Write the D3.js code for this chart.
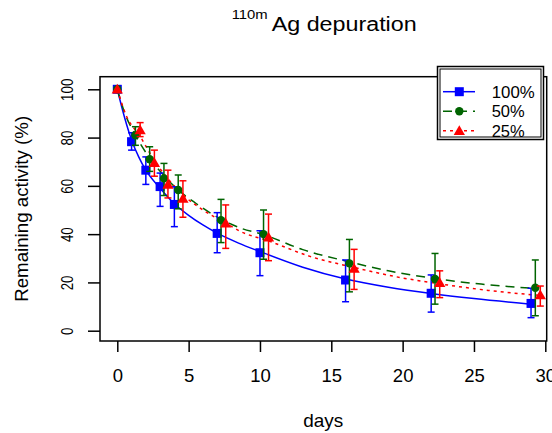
<!DOCTYPE html>
<html>
<head>
<meta charset="utf-8">
<script src="https://cdn.jsdelivr.net/npm/d3@7"></script>
<style>
  body { margin: 0; background: #fff; }
  text { font-family: "Liberation Sans", Arial, sans-serif; fill: #000; }
</style>
</head>
<body>
<svg id="chart" width="552" height="433"></svg>
<script>
// ---------------- data ----------------
const seriesNames = ["100%", "50%", "25%"];
const xTicks = [0, 5, 10, 15, 20, 25, 30];
const yTicks = [0, 20, 40, 60, 80, 100];

const days100 = [0, 1, 2, 3, 4, 7, 10, 16, 22, 29];
const mean100 = [100, 78.3, 66.5, 59.7, 52.3, 40.3, 32.3, 21.0, 15.5, 11.3];
const low100  = [100, 74.8, 60.6, 51.5, 43.1, 32.3, 22.8, 12.0, 7.7, 5.4];
const high100 = [100, 82.0, 72.0, 65.3, 59.6, 48.9, 41.4, 29.3, 23.1, 17.6];

const days50 = [0, 1.27, 2.27, 3.27, 4.27, 7.27, 10.25, 16.27, 22.27, 29.3];
const mean50 = [100, 81.0, 71.0, 63.1, 58.3, 45.8, 40.0, 27.9, 21.4, 17.8];
const low50  = [100, 76.8, 66.0, 56.0, 50.5, 36.5, 29.6, 16.1, 11.0, 6.2];
const high50 = [100, 84.5, 76.2, 69.3, 64.5, 54.4, 50.0, 37.8, 32.0, 29.3];

const days25 = [0, 1.6, 2.6, 3.55, 4.6, 7.6, 10.6, 16.6, 22.6, 29.65];
const mean25 = [100, 83.1, 69.6, 60.6, 54.8, 44.5, 38.7, 25.8, 19.9, 14.8];
const low25  = [100, 80.4, 64.0, 55.0, 47.0, 34.1, 29.0, 17.1, 13.7, 10.2];
const high25 = [100, 86.2, 74.8, 66.5, 62.1, 52.1, 48.3, 33.7, 24.8, 18.5];

// fitted curves
const fitT100 = [0, 0.5, 1, 1.5, 2, 3, 4, 5, 6, 7, 8.5, 10, 13, 16, 19, 22, 25, 29];
const fitY100 = [100, 88.5, 79, 72, 66.5, 59, 52.6, 47.8, 43.8, 40.4, 36.3, 32.8, 26.3, 21.4, 18.0, 15.4, 13.3, 11.0];
const fitT50 = [0, 0.5, 1.27, 2.27, 3.27, 4.27, 5.5, 7.27, 8.6, 10.25, 13, 16.27, 19, 22.27, 25.5, 29.3];
const fitY50 = [100, 90.5, 81, 71.5, 64.2, 58.3, 52.8, 46.2, 42.6, 39.8, 33.6, 28.5, 24.8, 21.6, 19.3, 17.5];
const fitT25 = [0, 0.6, 1.6, 2.6, 3.6, 4.6, 6, 7.6, 8.6, 10.6, 13.5, 16.6, 19.5, 22.6, 26, 29.65];
const fitY25 = [100, 89.5, 80.5, 70.5, 62.6, 56.3, 50.0, 44.6, 41.2, 37.2, 30.8, 26.2, 22.4, 19.4, 16.7, 14.6];

// ---------------- layout ----------------
const svg = d3.select("#chart");
const frame = { left: 100, right: 546.7, top: 76.7, bottom: 341 };
const x = d3.scaleLinear().domain([0, 30]).range([117.3, 545.3]);
const y = d3.scaleLinear().domain([0, 100]).range([330.7, 89.3]);

const colors = ["#0000ff", "#006400", "#ff0000"];
const dashes = [null, "9,6", "3,4"];

const series = [
  { days: days100, mean: mean100, low: low100, high: high100, ft: fitT100, fy: fitY100 },
  { days: days50,  mean: mean50,  low: low50,  high: high50,  ft: fitT50,  fy: fitY50 },
  { days: days25,  mean: mean25,  low: low25,  high: high25,  ft: fitT25,  fy: fitY25 }
];

// frame
svg.append("rect")
  .attr("x", frame.left).attr("y", frame.top)
  .attr("width", frame.right - frame.left).attr("height", frame.bottom - frame.top)
  .attr("fill", "none").attr("stroke", "#000").attr("stroke-width", 1.5);

// x axis
const xAxis = d3.axisBottom(x).tickValues(xTicks).tickSize(11).tickPadding(17).tickFormat(d3.format("d"));
const gx = svg.append("g").attr("transform", `translate(0,${frame.bottom})`).call(xAxis);
gx.select(".domain").remove();
gx.selectAll(".tick line").attr("stroke", "#000").attr("stroke-width", 1.5);
gx.selectAll(".tick text").attr("font-size", 18.5).attr("font-family", "Liberation Sans, Arial, sans-serif")
  .attr("fill", "#000").attr("dy", "0.71em");

// y axis
const yAxis = d3.axisLeft(y).tickValues(yTicks).tickSize(12).tickFormat(d3.format("d"));
const gy = svg.append("g").attr("transform", `translate(${frame.left},0)`).call(yAxis);
gy.select(".domain").remove();
gy.selectAll(".tick line").attr("stroke", "#000").attr("stroke-width", 1.5);
gy.selectAll(".tick text").remove();
gy.selectAll(".tick").append("text")
  .attr("transform", "translate(-33,0) rotate(-90)")
  .attr("text-anchor", "middle")
  .attr("dy", "0.36em")
  .attr("font-size", 16.5)
  .attr("textLength", d => String(d).length * 7.4)
  .attr("lengthAdjust", "spacingAndGlyphs")
  .text(d => d);

// fitted curves
const line = d3.line().curve(d3.curveMonotoneX);
series.forEach((s, i) => {
  svg.append("path")
    .attr("d", line(s.ft.map((t, k) => [x(t), y(s.fy[k])])))
    .attr("fill", "none").attr("stroke", colors[i]).attr("stroke-width", 1.5)
    .attr("stroke-dasharray", dashes[i]);
});

// error bars + markers
function drawMarker(g, shape, cx, cy, color) {
  if (shape === 0) {
    g.append("rect").attr("x", cx - 4.5).attr("y", cy - 4.5).attr("width", 9).attr("height", 9).attr("fill", color);
  } else if (shape === 1) {
    g.append("circle").attr("cx", cx).attr("cy", cy).attr("r", 4.2).attr("fill", color);
  } else {
    g.append("path").attr("d", d3.symbol(d3.symbolTriangle, 55)()).attr("transform", `translate(${cx},${cy + 1})`).attr("fill", color);
  }
}

series.forEach((s, i) => {
  const g = svg.append("g");
  s.days.forEach((d, k) => {
    const cx = x(d);
    if (s.high[k] - s.low[k] > 0.5) {
      g.append("line").attr("x1", cx).attr("x2", cx).attr("y1", y(s.low[k])).attr("y2", y(s.high[k]))
        .attr("stroke", colors[i]).attr("stroke-width", 1.5);
      [s.low[k], s.high[k]].forEach(v => {
        g.append("line").attr("x1", cx - 3.5).attr("x2", cx + 3.5).attr("y1", y(v)).attr("y2", y(v))
          .attr("stroke", colors[i]).attr("stroke-width", 1.5);
      });
    }
  });
  s.days.forEach((d, k) => drawMarker(g, i, x(d), y(s.mean[k]), colors[i]));
});

// legend
const lg = svg.append("g");
lg.append("rect").attr("x", 437.5).attr("y", 66.5).attr("width", 106).attr("height", 73)
  .attr("fill", "#fff").attr("stroke", "#000").attr("stroke-width", 1.5);
lg.append("rect").attr("x", 440).attr("y", 69).attr("width", 101).attr("height", 68)
  .attr("fill", "none").attr("stroke", "#000").attr("stroke-width", 1);
const legY = [91.7, 111.2, 130.7];
seriesNames.forEach((name, i) => {
  lg.append("line").attr("x1", 443).attr("x2", 475).attr("y1", legY[i]).attr("y2", legY[i])
    .attr("stroke", colors[i]).attr("stroke-width", 1.5).attr("stroke-dasharray", dashes[i]);
  drawMarker(lg, i, 459.3, legY[i], colors[i]);
  lg.append("text").attr("x", 491.7).attr("y", legY[i]).attr("dy", "0.36em")
    .attr("font-size", 16.5).attr("textLength", name.length === 4 ? 43 : 33).attr("lengthAdjust", "spacingAndGlyphs")
    .text(name);
});

// axis titles
svg.append("text").attr("x", 323.3).attr("y", 427).attr("text-anchor", "middle")
  .attr("font-size", 18.5).attr("textLength", 40).attr("lengthAdjust", "spacingAndGlyphs").text("days");
svg.append("text").attr("transform", `translate(28,${(frame.top + frame.bottom) / 2}) rotate(-90)`)
  .attr("text-anchor", "middle").attr("font-size", 17.5)
  .attr("textLength", 186).attr("lengthAdjust", "spacingAndGlyphs")
  .text("Remaining activity (%)");

// title
const title = svg.append("text").attr("font-size", 19);
title.append("tspan").attr("x", 231.7).attr("y", 19).attr("font-size", 13.5)
  .attr("textLength", 36).attr("lengthAdjust", "spacingAndGlyphs").text("110m");
svg.append("text").attr("x", 271.7).attr("y", 31).attr("font-size", 19.5)
  .attr("textLength", 145).attr("lengthAdjust", "spacingAndGlyphs").text("Ag depuration");
</script>
</body>
</html>
